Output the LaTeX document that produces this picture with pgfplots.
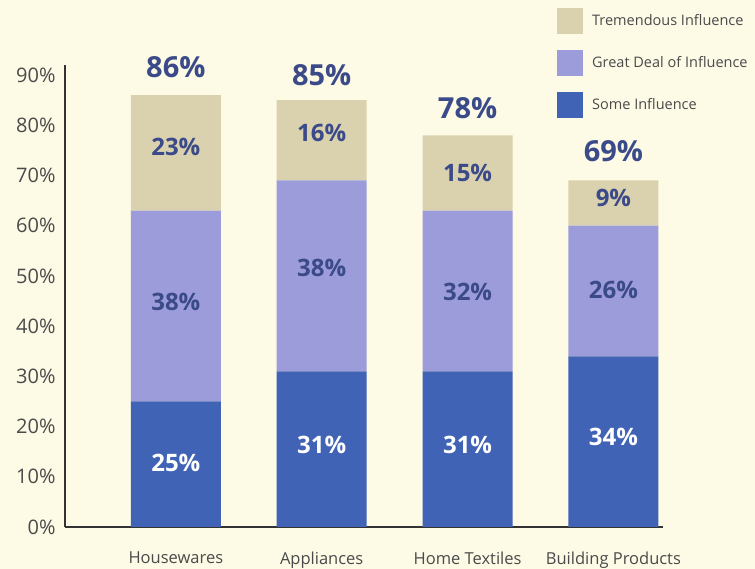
\documentclass[border=0pt]{standalone}
\usepackage{pgfplots}
\pgfplotsset{compat=1.18}
\usepackage{fontspec}
\setmainfont{Open Sans}
\definecolor{bg}{HTML}{FDFAE6}
\definecolor{cSome}{HTML}{4063B6}
\definecolor{cGreat}{HTML}{9D9CDB}
\definecolor{cTrem}{HTML}{DAD1AF}
\definecolor{labc}{HTML}{3B4A88}
\definecolor{tickc}{HTML}{4A4A4A}
\begin{document}
\begin{tikzpicture}
\useasboundingbox (-65pt,-42pt) rectangle (690pt,527pt);
\fill[bg] (-65pt,-42pt) rectangle (690pt,527pt);
\begin{axis}[
  at={(0pt,0pt)}, anchor=south west,
  scale only axis, width=598pt, height=462pt,
  ybar stacked, bar width=90pt,
  xmin=-0.76, xmax=3.34, ymin=0, ymax=92,
  axis lines*=left,
  axis line style={draw=black!80, line width=1.2pt},
  major tick length=0pt,
  xtick={0,1,2,3},
  xticklabels={Housewares,Appliances,Home Textiles,Building Products},
  xticklabel style={font=\fontsize{16.5}{16.5}\selectfont, text=tickc, anchor=north, yshift=-21pt},
  ytick={0,10,20,30,40,50,60,70,80,90},
  yticklabels={0\%,10\%,20\%,30\%,40\%,50\%,60\%,70\%,80\%,90\%},
  yticklabel style={font=\fontsize{20}{20}\selectfont, text=tickc, xshift=-6pt},
  reverse legend,
  legend style={at={(0.8227,1.1234)}, anchor=north west, draw=none, fill=none,
    inner sep=0pt, row sep=16pt,
    font=\fontsize{14.5}{14.5}\selectfont, text=tickc,
    nodes={inner sep=0pt, anchor=west},
    /tikz/column 1/.style={column sep=9pt}},
  legend image code/.code={\fill[#1] (0pt,-13pt) rectangle (26pt,13pt);},
  clip=false,
]
\addplot[fill=cSome, draw=none] coordinates {(0,25) (1,31) (2,31) (3,34)};
\addlegendentry{Some Influence}
\addplot[fill=cGreat, draw=none] coordinates {(0,38) (1,38) (2,32) (3,26)};
\addlegendentry{Great Deal of Influence}
\addplot[fill=cTrem, draw=none] coordinates {(0,23) (1,16) (2,15) (3,9)};
\addlegendentry{Tremendous Influence}
\end{axis}
\begin{axis}[
  at={(0pt,0pt)}, anchor=south west,
  scale only axis, width=598pt, height=462pt,
  xmin=-0.76, xmax=3.34, ymin=0, ymax=92,
  hide axis, clip=false,
]
\tikzset{vl/.style={font=\bfseries\fontsize{24}{24}\selectfont, text=labc},
         wl/.style={font=\bfseries\fontsize{24}{24}\selectfont, text=white},
         tl/.style={font=\bfseries\fontsize{29}{29}\selectfont, text=labc}}
\node[wl] at (axis cs:0,12.7) {25\%};
\node[vl] at (axis cs:0,44.8) {38\%};
\node[vl] at (axis cs:0,75.7) {23\%};
\node[tl] at (axis cs:0,91.6) {86\%};
\node[wl] at (axis cs:1,16.3) {31\%};
\node[vl] at (axis cs:1,51.6) {38\%};
\node[vl] at (axis cs:1,78.5) {16\%};
\node[tl] at (axis cs:1,90.0) {85\%};
\node[wl] at (axis cs:2,16.3) {31\%};
\node[vl] at (axis cs:2,46.8) {32\%};
\node[vl] at (axis cs:2,70.5) {15\%};
\node[tl] at (axis cs:2,83.5) {78\%};
\node[wl] at (axis cs:3,17.9) {34\%};
\node[vl] at (axis cs:3,47.2) {26\%};
\node[vl] at (axis cs:3,65.5) {9\%};
\node[tl] at (axis cs:3,74.9) {69\%};
\end{axis}
\end{tikzpicture}
\end{document}
